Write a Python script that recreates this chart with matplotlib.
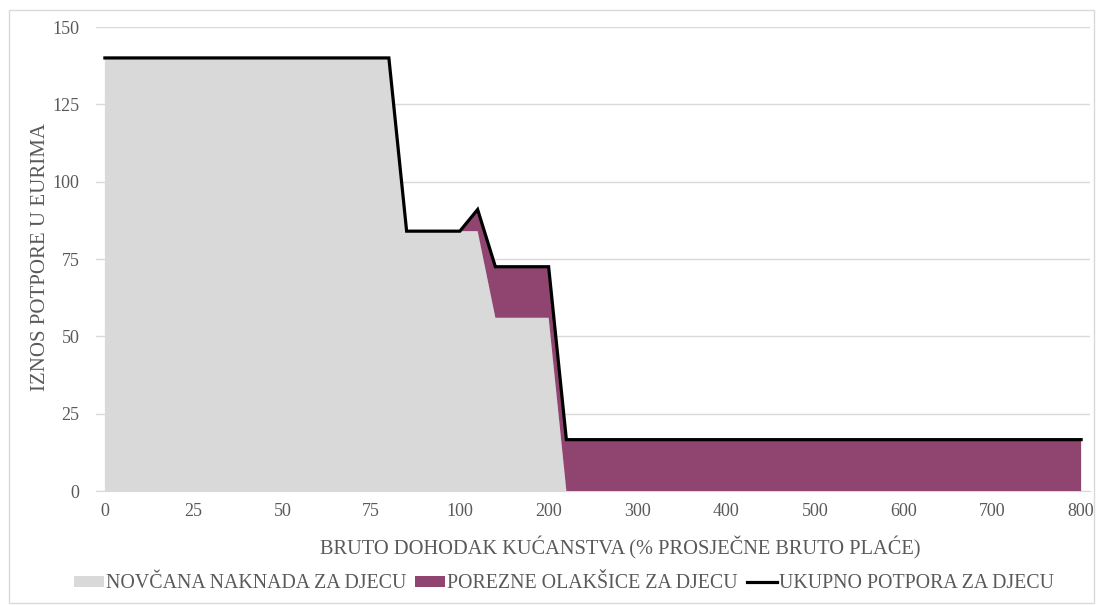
import matplotlib
matplotlib.use('Agg')
import matplotlib.pyplot as plt
from matplotlib.patches import Patch, Rectangle
from matplotlib.lines import Line2D

# dohodak kucanstva (% prosjecne bruto place) - kategorije
income = [0, 5, 10, 15, 20, 25, 30, 35, 40, 45, 50, 55, 60, 65, 70, 75, 80, 85, 90, 95, 100,
          120, 140, 160, 180, 200, 220, 240, 260, 280, 300, 320, 340, 360, 380, 400,
          420, 440, 460, 480, 500, 520, 540, 560, 580, 600, 620, 640, 660, 680, 700,
          720, 740, 760, 780, 800]

# novcana naknada za djecu
cash_benefit = [140] * 17 + [84] * 5 + [56] * 4 + [0] * 30
# porezne olaksice za djecu
tax_relief = [0] * 21 + [7] + [16.5] * 4 + [16.6] * 30
# ukupno
total = [c + t for c, t in zip(cash_benefit, tax_relief)]

tick_labels = ['0', '25', '50', '75', '100', '200', '300', '400', '500', '600', '700', '800']

GREY = '#d9d9d9'
PURPLE = '#8f4570'
TXT = '#595959'

plt.rcParams['font.family'] = ['Liberation Serif', 'DejaVu Serif']

fig = plt.figure(figsize=(10.99, 6.05), dpi=100)
ax = fig.add_axes([96 / 1099, 1 - 491 / 605, (1090 - 96) / 1099, (491 - 27) / 605])

x = list(range(len(income)))
ax.stackplot(x, cash_benefit, tax_relief, colors=[GREY, PURPLE], linewidth=0, zorder=2)
ax.plot(x, total, color='black', linewidth=2.3, solid_joinstyle='miter', zorder=3)

ax.set_xlim(-0.5, len(income) - 0.5)
ax.set_ylim(0, 150)
ax.set_yticks(range(0, 151, 25))
ax.set_xticks(x[::5])
ax.set_xticklabels(tick_labels)
ax.tick_params(axis='both', length=0, labelsize=13, labelcolor=TXT)
ax.tick_params(axis='x', pad=9)
ax.tick_params(axis='y', pad=12)

ax.grid(True, axis='y', color='#d9d9d9', linewidth=1, zorder=0)
ax.set_axisbelow(True)
for side in ['top', 'right', 'left']:
    ax.spines[side].set_visible(False)
ax.spines['bottom'].set_color('#d9d9d9')
ax.spines['bottom'].set_zorder(1)

ax.set_ylabel('IZNOS POTPORE U EURIMA', fontsize=15, color=TXT)
ax.yaxis.set_label_coords(-0.046, 0.504)
ax.set_xlabel('BRUTO DOHODAK KUĆANSTVA (% PROSJEČNE BRUTO PLAĆE)', fontsize=14.7, color=TXT)
ax.xaxis.set_label_coords(0.527, -0.099)

handles = [Patch(facecolor=GREY, edgecolor='none'),
           Patch(facecolor=PURPLE, edgecolor='none'),
           Line2D([], [], color='black', linewidth=2.3)]
labels = ['NOVČANA NAKNADA ZA DJECU', 'POREZNE OLAKŠICE ZA DJECU', 'UKUPNO POTPORA ZA DJECU']
fig.legend(handles, labels, loc='center', bbox_to_anchor=(564 / 1099, 1 - 584 / 605), ncol=3,
           frameon=False, fontsize=14.3, labelcolor=TXT, handlelength=1.5, handleheight=0.42,
           handletextpad=0.12, columnspacing=0.45, borderaxespad=0)

fig.patches.append(Rectangle((9 / 1099, 0.003), 1 - 14 / 1099, 1 - 10 / 605 - 0.003,
                             transform=fig.transFigure, fill=False, edgecolor='#d9d9d9',
                             linewidth=1))

fig.savefig('out.png', dpi=100)
